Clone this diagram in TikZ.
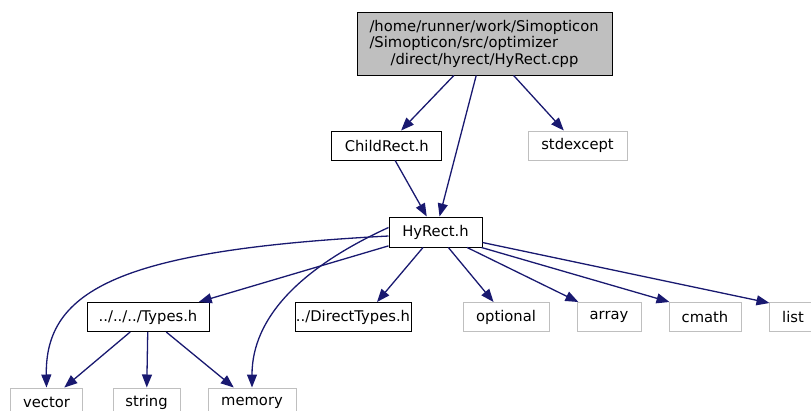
\documentclass[tikz,border=0pt]{standalone}
\usepackage{fontspec}
\setmainfont{DejaVu Sans}
\usetikzlibrary{arrows.meta}
\definecolor{edgeblue}{HTML}{191970}
\definecolor{boxgray}{HTML}{BFBFBF}
\tikzset{
  every node/.style={font=\fontsize{14.8}{16.5}\selectfont, inner sep=0pt},
  filebox/.style={draw=black, line width=1bp, fill=white, minimum height=29bp},
  sysbox/.style={draw=boxgray, line width=1bp, fill=white, minimum height=29bp},
  dep/.style={draw=edgeblue, line width=1.3bp, -{Triangle[length=13bp,width=10bp]}},
}
\begin{document}
\begin{tikzpicture}[x=1bp,y=-1bp]
\useasboundingbox (0,0) rectangle (811,410);
\node[draw=black, line width=1bp, fill=boxgray, minimum width=255bp, minimum height=63bp, align=left] (root) at (484.5,43.5)
  {/home/runner/work/Simopticon\\/Simopticon/src/optimizer\\\makebox[230bp][c]{/direct/hyrect/HyRect.cpp}};
\node[filebox, minimum width=110bp] (child) at (386.7,145.5) {ChildRect.h};
\node[sysbox, minimum width=99bp] (stdexcept) at (577.5,145.5) {stdexcept};
\node[filebox, minimum width=93bp, minimum height=30bp] (hyrect) at (435.5,232) {HyRect.h};
\node[filebox, minimum width=122bp] (types) at (148,317) {../../../Types.h};
\node[filebox, minimum width=116bp] (direct) at (353,317) {../DirectTypes.h};
\node[sysbox, minimum width=86bp] (optional) at (506,317) {optional};
\node[sysbox, minimum width=64bp] (array) at (609,317) {array};
\node[sysbox, minimum width=72bp] (cmath) at (705,317) {cmath};
\node[sysbox, minimum width=48bp] (list) at (793,317) {list};
\node[sysbox, minimum width=71bp] (vector) at (46.5,402.5) {vector};
\node[sysbox, minimum width=67bp] (string) at (146.5,402.5) {string};
\node[sysbox, minimum width=88bp] (memory) at (252,402.5) {memory};

\draw[dep] (root) -- (child);
\draw[dep] (root) -- (hyrect);
\draw[dep] (root) -- (stdexcept);
\draw[dep] (child) -- (hyrect);
\draw[dep] ([shift={(0,4)}]hyrect.west) .. controls (120,250) and (45,290) .. (vector.north);
\draw[dep] (hyrect) -- (types);
\draw[dep] ([shift={(0,11)}]hyrect.north west) .. controls (300,268) and (252,318) .. (memory.north);
\draw[dep] ([shift={(-12.5,0)}]hyrect.south) -- ([shift={(24,0)}]direct.north);
\draw[dep] (hyrect) -- (optional);
\draw[dep] (hyrect) -- (array);
\draw[dep] ([shift={(-1,0)}]hyrect.south east) -- ([shift={(1,0)}]cmath.north west);
\draw[dep] ([shift={(0,-5)}]hyrect.south east) -- ([shift={(1,1)}]list.north west);
\draw[dep] (types) -- (vector);
\draw[dep] (types) -- (string);
\draw[dep] (types) -- (memory);
\end{tikzpicture}
\end{document}
